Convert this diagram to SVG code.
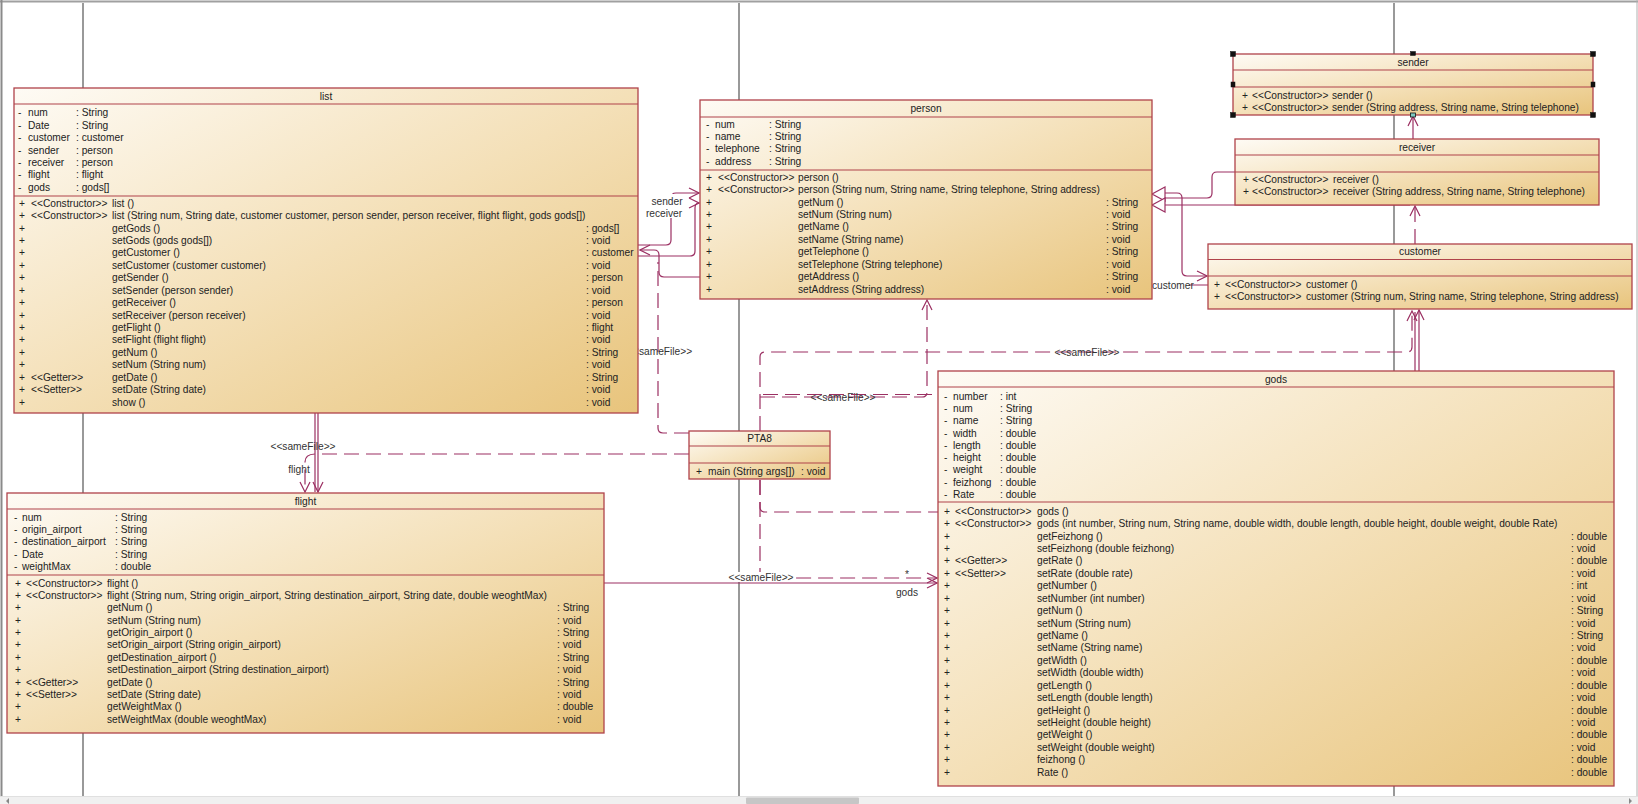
<svg xmlns="http://www.w3.org/2000/svg" width="1638" height="804" viewBox="0 0 1638 804">
<style>
text{font-family:"Liberation Sans",Arial,sans-serif;font-size:10.2px;fill:#222}
.tt{text-anchor:middle}
.lb{fill:#333}
.box{fill:url(#g);stroke:#b0434a;stroke-width:1.3}
.dv{stroke:#b0434a;stroke-width:1.2}
.c{fill:none;stroke:#9b2f62;stroke-width:1.2}
.d{fill:none;stroke:#9b2f62;stroke-width:1.2;stroke-dasharray:15 7}
.a{marker-end:url(#arr)}
.gen{fill:#fff;stroke:#9b2f62;stroke-width:1.2}
.gl{stroke:#555;stroke-width:1.2}
.h{fill:#111;stroke:#111;stroke-width:0.5}
.wb{fill:#fff}
</style>
<defs>
<linearGradient id="g" x1="0" y1="0" x2="1" y2="1">
<stop offset="0" stop-color="#fefbf5"/>
<stop offset="0.5" stop-color="#f4e0b8"/>
<stop offset="1" stop-color="#e8c47c"/>
</linearGradient>
<marker id="arr" viewBox="0 0 12 12" refX="11" refY="6" markerWidth="12" markerHeight="12" markerUnits="userSpaceOnUse" orient="auto">
<path d="M1,1 L11,6 L1,11" fill="none" stroke="#9b2f62" stroke-width="1.2"/>
</marker>
</defs>
<rect x="0" y="0" width="1638" height="804" fill="#fff"/>
<g id="frame">
<line x1="0" y1="1.5" x2="1638" y2="1.5" stroke="#a0a0a0" stroke-width="2"/>
<line x1="1.5" y1="0" x2="1.5" y2="804" stroke="#8a8a8a" stroke-width="2"/>
<line x1="1637" y1="0" x2="1637" y2="796" stroke="#b0b0b0" stroke-width="1"/>
<rect x="0" y="796" width="1638" height="8" fill="#f0f0f0"/>
<line x1="0" y1="796.5" x2="1638" y2="796.5" stroke="#e0e0e0"/>
<rect x="746" y="797.5" width="113" height="6.5" rx="1" fill="#c6c6c6"/>
<path d="M9,798 L6,801 L9,804 Z M1629,798 L1632,801 L1629,804 Z" fill="#888"/>
<line class="gl" x1="83" y1="3" x2="83" y2="796"/>
<line class="gl" x1="739" y1="3" x2="739" y2="796"/>
<line class="gl" x1="1394" y1="3" x2="1394" y2="796"/>
</g>
<g id="connectors">
<path class="c a" d="M638,245 H666 Q671,245 671,240 V198 Q671,193 676,193 H699"/>
<path class="c a" d="M638,256 H690 Q695,256 695,251 V208 Q695,203 699,203"/>
<rect class="wb" x="648" y="194" width="38" height="24"/>
<text class="lb tt" x="667" y="204.5">sender</text>
<text class="lb tt" x="664" y="216.5">receiver</text>
<path class="c a" d="M700,277 H664 Q659,277 659,272 V255 Q659,250 654,250 H640"/>
<path class="c" d="M1152,285 H1208"/>
<rect class="wb" x="1152" y="279" width="37" height="12"/>
<text class="lb" x="1152" y="288.5">customer</text>
<path class="c a" d="M1165,193 H1177 Q1182,193 1182,198 V271 Q1182,276 1187,276 H1207"/>
<path class="c" d="M1235,172 H1217 Q1212,172 1212,177 V193 Q1212,198 1207,198 H1165"/>
<path class="c" d="M1165,205 H1410"/>
<polygon class="gen" points="1152,194 1165,187 1165,201"/>
<polygon class="gen" points="1152,205 1165,198 1165,212"/>
<path class="c a" d="M1413,139 V116"/>
<path class="d a" d="M1415,244 V206"/>
<path class="c" d="M1415,371 V312"/>
<path class="c a" d="M1419,371 V310"/>
<path class="d a" d="M760,431 V357 Q760,352 765,352 H1407 Q1412,352 1412,347 V311"/>
<text class="lb tt" x="1087" y="355.5">&lt;&lt;sameFile&gt;&gt;</text>
<path class="d a" d="M760,397 H922 Q927,397 927,392 V300"/>
<path class="d" d="M763,394.5 H938"/>
<text class="lb tt" x="843" y="400.5">&lt;&lt;sameFile&gt;&gt;</text>
<path class="d" d="M760,480 V507 Q760,512 765,512 H938"/>
<path class="d a" d="M760,480 V573 Q760,578 765,578 H937"/>
<path class="c a" d="M604,583 H937"/>
<rect class="wb" x="729" y="572" width="64" height="10"/>
<text class="lb tt" x="761" y="581">&lt;&lt;sameFile&gt;&gt;</text>
<text class="lb" x="905" y="578">*</text>
<text class="lb tt" x="907" y="596">gods</text>
<path class="d a" d="M689,454 H316 Q305,454 305,462 V492"/>
<path class="c" d="M315,413 V492"/>
<path class="c a" d="M318,413 V492"/>
<text class="lb tt" x="303" y="449.5">&lt;&lt;sameFile&gt;&gt;</text>
<text class="lb tt" x="299" y="472.5">flight</text>
<path class="d" d="M689,433 H663 Q658,433 658,428 V262"/>
<text class="lb" x="627" y="354.5">&lt;&lt;sameFile&gt;&gt;</text>
</g>
<g id="list">
<rect class="box" x="14" y="88" width="624" height="325"/>
<line class="dv" x1="14" y1="104" x2="638" y2="104"/>
<line class="dv" x1="14" y1="196" x2="638" y2="196"/>
<text class="tt" x="326" y="99.6">list</text>
<text x="18" y="116.3">-</text><text x="28" y="116.3">num</text><text x="76" y="116.3">: String</text>
<text x="18" y="128.7">-</text><text x="28" y="128.7">Date</text><text x="76" y="128.7">: String</text>
<text x="18" y="141.1">-</text><text x="28" y="141.1">customer</text><text x="76" y="141.1">: customer</text>
<text x="18" y="153.5">-</text><text x="28" y="153.5">sender</text><text x="76" y="153.5">: person</text>
<text x="18" y="165.9">-</text><text x="28" y="165.9">receiver</text><text x="76" y="165.9">: person</text>
<text x="18" y="178.3">-</text><text x="28" y="178.3">flight</text><text x="76" y="178.3">: flight</text>
<text x="18" y="190.7">-</text><text x="28" y="190.7">gods</text><text x="76" y="190.7">: gods[]</text>
<text x="19" y="206.6">+</text><text x="31" y="206.6">&lt;&lt;Constructor&gt;&gt;</text><text x="112" y="206.6">list ()</text>
<text x="19" y="219">+</text><text x="31" y="219">&lt;&lt;Constructor&gt;&gt;</text><text x="112" y="219">list (String num, String date, customer customer, person sender, person receiver, flight flight, gods gods[])</text>
<text x="19" y="231.5">+</text><text x="112" y="231.5">getGods ()</text><text x="586" y="231.5">: gods[]</text>
<text x="19" y="243.9">+</text><text x="112" y="243.9">setGods (gods gods[])</text><text x="586" y="243.9">: void</text>
<text x="19" y="256.4">+</text><text x="112" y="256.4">getCustomer ()</text><text x="586" y="256.4">: customer</text>
<text x="19" y="268.8">+</text><text x="112" y="268.8">setCustomer (customer customer)</text><text x="586" y="268.8">: void</text>
<text x="19" y="281.2">+</text><text x="112" y="281.2">getSender ()</text><text x="586" y="281.2">: person</text>
<text x="19" y="293.7">+</text><text x="112" y="293.7">setSender (person sender)</text><text x="586" y="293.7">: void</text>
<text x="19" y="306.1">+</text><text x="112" y="306.1">getReceiver ()</text><text x="586" y="306.1">: person</text>
<text x="19" y="318.6">+</text><text x="112" y="318.6">setReceiver (person receiver)</text><text x="586" y="318.6">: void</text>
<text x="19" y="331">+</text><text x="112" y="331">getFlight ()</text><text x="586" y="331">: flight</text>
<text x="19" y="343.4">+</text><text x="112" y="343.4">setFlight (flight flight)</text><text x="586" y="343.4">: void</text>
<text x="19" y="355.9">+</text><text x="112" y="355.9">getNum ()</text><text x="586" y="355.9">: String</text>
<text x="19" y="368.3">+</text><text x="112" y="368.3">setNum (String num)</text><text x="586" y="368.3">: void</text>
<text x="19" y="380.8">+</text><text x="31" y="380.8">&lt;&lt;Getter&gt;&gt;</text><text x="112" y="380.8">getDate ()</text><text x="586" y="380.8">: String</text>
<text x="19" y="393.2">+</text><text x="31" y="393.2">&lt;&lt;Setter&gt;&gt;</text><text x="112" y="393.2">setDate (String date)</text><text x="586" y="393.2">: void</text>
<text x="19" y="405.6">+</text><text x="112" y="405.6">show ()</text><text x="586" y="405.6">: void</text>
</g>
<g id="person">
<rect class="box" x="700" y="100" width="452" height="199"/>
<line class="dv" x1="700" y1="117" x2="1152" y2="117"/>
<line class="dv" x1="700" y1="170" x2="1152" y2="170"/>
<text class="tt" x="926" y="112.1">person</text>
<text x="706" y="127.6">-</text><text x="715" y="127.6">num</text><text x="769" y="127.6">: String</text>
<text x="706" y="140">-</text><text x="715" y="140">name</text><text x="769" y="140">: String</text>
<text x="706" y="152.4">-</text><text x="715" y="152.4">telephone</text><text x="769" y="152.4">: String</text>
<text x="706" y="164.8">-</text><text x="715" y="164.8">address</text><text x="769" y="164.8">: String</text>
<text x="706" y="180.6">+</text><text x="718" y="180.6">&lt;&lt;Constructor&gt;&gt;</text><text x="798" y="180.6">person ()</text>
<text x="706" y="193">+</text><text x="718" y="193">&lt;&lt;Constructor&gt;&gt;</text><text x="798" y="193">person (String num, String name, String telephone, String address)</text>
<text x="706" y="205.5">+</text><text x="798" y="205.5">getNum ()</text><text x="1106" y="205.5">: String</text>
<text x="706" y="217.9">+</text><text x="798" y="217.9">setNum (String num)</text><text x="1106" y="217.9">: void</text>
<text x="706" y="230.4">+</text><text x="798" y="230.4">getName ()</text><text x="1106" y="230.4">: String</text>
<text x="706" y="242.8">+</text><text x="798" y="242.8">setName (String name)</text><text x="1106" y="242.8">: void</text>
<text x="706" y="255.2">+</text><text x="798" y="255.2">getTelephone ()</text><text x="1106" y="255.2">: String</text>
<text x="706" y="267.7">+</text><text x="798" y="267.7">setTelephone (String telephone)</text><text x="1106" y="267.7">: void</text>
<text x="706" y="280.1">+</text><text x="798" y="280.1">getAddress ()</text><text x="1106" y="280.1">: String</text>
<text x="706" y="292.6">+</text><text x="798" y="292.6">setAddress (String address)</text><text x="1106" y="292.6">: void</text>
</g>
<g id="sender">
<rect class="box" x="1233" y="54" width="360" height="61"/>
<line class="dv" x1="1233" y1="70" x2="1593" y2="70"/>
<line class="dv" x1="1233" y1="87" x2="1593" y2="87"/>
<text class="tt" x="1413" y="65.6">sender</text>
<text x="1242" y="98.6">+</text><text x="1252" y="98.6">&lt;&lt;Constructor&gt;&gt;</text><text x="1332" y="98.6">sender ()</text>
<text x="1242" y="111">+</text><text x="1252" y="111">&lt;&lt;Constructor&gt;&gt;</text><text x="1332" y="111">sender (String address, String name, String telephone)</text>
<rect class="h" x="1230.5" y="51.5" width="5" height="5"/>
<rect class="h" x="1410.5" y="51.5" width="5" height="4"/>
<rect class="h" x="1590.5" y="51.5" width="5" height="5"/>
<rect class="h" x="1231" y="82" width="4" height="5"/>
<rect class="h" x="1591" y="82" width="4" height="5"/>
<rect class="h" x="1230.5" y="112.5" width="5" height="5"/>
<rect x="1410.5" y="113" width="5" height="4" fill="#7fc9c0" stroke="#111" stroke-width="0.8"/>
<rect class="h" x="1590.5" y="112.5" width="5" height="5"/>
</g>
<g id="receiver">
<rect class="box" x="1235" y="139" width="364" height="66"/>
<line class="dv" x1="1235" y1="155" x2="1599" y2="155"/>
<line class="dv" x1="1235" y1="172" x2="1599" y2="172"/>
<text class="tt" x="1417" y="150.6">receiver</text>
<text x="1243" y="182.6">+</text><text x="1252" y="182.6">&lt;&lt;Constructor&gt;&gt;</text><text x="1333" y="182.6">receiver ()</text>
<text x="1243" y="195">+</text><text x="1252" y="195">&lt;&lt;Constructor&gt;&gt;</text><text x="1333" y="195">receiver (String address, String name, String telephone)</text>
</g>
<g id="customer">
<rect class="box" x="1208" y="244" width="424" height="65"/>
<line class="dv" x1="1208" y1="259.5" x2="1632" y2="259.5"/>
<line class="dv" x1="1208" y1="276" x2="1632" y2="276"/>
<text class="tt" x="1420" y="255.1">customer</text>
<text x="1214" y="287.6">+</text><text x="1225" y="287.6">&lt;&lt;Constructor&gt;&gt;</text><text x="1306" y="287.6">customer ()</text>
<text x="1214" y="300">+</text><text x="1225" y="300">&lt;&lt;Constructor&gt;&gt;</text><text x="1306" y="300">customer (String num, String name, String telephone, String address)</text>
</g>
<g id="PTA8">
<rect class="box" x="689" y="431" width="141" height="48"/>
<line class="dv" x1="689" y1="446" x2="830" y2="446"/>
<line class="dv" x1="689" y1="463" x2="830" y2="463"/>
<text class="tt" x="759.5" y="442.1">PTA8</text>
<text x="696" y="474.6">+</text><text x="708" y="474.6">main (String args[])</text><text x="801" y="474.6">: void</text>
</g>
<g id="flight">
<rect class="box" x="7" y="493" width="597" height="240"/>
<line class="dv" x1="7" y1="509" x2="604" y2="509"/>
<line class="dv" x1="7" y1="575" x2="604" y2="575"/>
<text class="tt" x="305.5" y="504.6">flight</text>
<text x="14" y="520.6">-</text><text x="22" y="520.6">num</text><text x="115" y="520.6">: String</text>
<text x="14" y="533">-</text><text x="22" y="533">origin_airport</text><text x="115" y="533">: String</text>
<text x="14" y="545.4">-</text><text x="22" y="545.4">destination_airport</text><text x="115" y="545.4">: String</text>
<text x="14" y="557.8">-</text><text x="22" y="557.8">Date</text><text x="115" y="557.8">: String</text>
<text x="14" y="570.2">-</text><text x="22" y="570.2">weightMax</text><text x="115" y="570.2">: double</text>
<text x="15" y="586.6">+</text><text x="26" y="586.6">&lt;&lt;Constructor&gt;&gt;</text><text x="107" y="586.6">flight ()</text>
<text x="15" y="599">+</text><text x="26" y="599">&lt;&lt;Constructor&gt;&gt;</text><text x="107" y="599">flight (String num, String origin_airport, String destination_airport, String date, double weoghtMax)</text>
<text x="15" y="611.3">+</text><text x="107" y="611.3">getNum ()</text><text x="557" y="611.3">: String</text>
<text x="15" y="623.7">+</text><text x="107" y="623.7">setNum (String num)</text><text x="557" y="623.7">: void</text>
<text x="15" y="636">+</text><text x="107" y="636">getOrigin_airport ()</text><text x="557" y="636">: String</text>
<text x="15" y="648.4">+</text><text x="107" y="648.4">setOrigin_airport (String origin_airport)</text><text x="557" y="648.4">: void</text>
<text x="15" y="660.8">+</text><text x="107" y="660.8">getDestination_airport ()</text><text x="557" y="660.8">: String</text>
<text x="15" y="673.1">+</text><text x="107" y="673.1">setDestination_airport (String destination_airport)</text><text x="557" y="673.1">: void</text>
<text x="15" y="685.5">+</text><text x="26" y="685.5">&lt;&lt;Getter&gt;&gt;</text><text x="107" y="685.5">getDate ()</text><text x="557" y="685.5">: String</text>
<text x="15" y="697.8">+</text><text x="26" y="697.8">&lt;&lt;Setter&gt;&gt;</text><text x="107" y="697.8">setDate (String date)</text><text x="557" y="697.8">: void</text>
<text x="15" y="710.2">+</text><text x="107" y="710.2">getWeightMax ()</text><text x="557" y="710.2">: double</text>
<text x="15" y="722.6">+</text><text x="107" y="722.6">setWeightMax (double weoghtMax)</text><text x="557" y="722.6">: void</text>
</g>
<g id="gods">
<rect class="box" x="938" y="371" width="676" height="415"/>
<line class="dv" x1="938" y1="387" x2="1614" y2="387"/>
<line class="dv" x1="938" y1="502" x2="1614" y2="502"/>
<text class="tt" x="1276" y="382.6">gods</text>
<text x="944" y="399.6">-</text><text x="953" y="399.6">number</text><text x="1000" y="399.6">: int</text>
<text x="944" y="411.9">-</text><text x="953" y="411.9">num</text><text x="1000" y="411.9">: String</text>
<text x="944" y="424.2">-</text><text x="953" y="424.2">name</text><text x="1000" y="424.2">: String</text>
<text x="944" y="436.5">-</text><text x="953" y="436.5">width</text><text x="1000" y="436.5">: double</text>
<text x="944" y="448.8">-</text><text x="953" y="448.8">length</text><text x="1000" y="448.8">: double</text>
<text x="944" y="461.1">-</text><text x="953" y="461.1">height</text><text x="1000" y="461.1">: double</text>
<text x="944" y="473.4">-</text><text x="953" y="473.4">weight</text><text x="1000" y="473.4">: double</text>
<text x="944" y="485.7">-</text><text x="953" y="485.7">feizhong</text><text x="1000" y="485.7">: double</text>
<text x="944" y="498">-</text><text x="953" y="498">Rate</text><text x="1000" y="498">: double</text>
<text x="944" y="514.6">+</text><text x="955" y="514.6">&lt;&lt;Constructor&gt;&gt;</text><text x="1037" y="514.6">gods ()</text>
<text x="944" y="527">+</text><text x="955" y="527">&lt;&lt;Constructor&gt;&gt;</text><text x="1037" y="527">gods (int number, String num, String name, double width, double length, double height, double weight, double Rate)</text>
<text x="944" y="539.5">+</text><text x="1037" y="539.5">getFeizhong ()</text><text x="1571" y="539.5">: double</text>
<text x="944" y="551.9">+</text><text x="1037" y="551.9">setFeizhong (double feizhong)</text><text x="1571" y="551.9">: void</text>
<text x="944" y="564.3">+</text><text x="955" y="564.3">&lt;&lt;Getter&gt;&gt;</text><text x="1037" y="564.3">getRate ()</text><text x="1571" y="564.3">: double</text>
<text x="944" y="576.8">+</text><text x="955" y="576.8">&lt;&lt;Setter&gt;&gt;</text><text x="1037" y="576.8">setRate (double rate)</text><text x="1571" y="576.8">: void</text>
<text x="944" y="589.2">+</text><text x="1037" y="589.2">getNumber ()</text><text x="1571" y="589.2">: int</text>
<text x="944" y="601.6">+</text><text x="1037" y="601.6">setNumber (int number)</text><text x="1571" y="601.6">: void</text>
<text x="944" y="614">+</text><text x="1037" y="614">getNum ()</text><text x="1571" y="614">: String</text>
<text x="944" y="626.5">+</text><text x="1037" y="626.5">setNum (String num)</text><text x="1571" y="626.5">: void</text>
<text x="944" y="638.9">+</text><text x="1037" y="638.9">getName ()</text><text x="1571" y="638.9">: String</text>
<text x="944" y="651.3">+</text><text x="1037" y="651.3">setName (String name)</text><text x="1571" y="651.3">: void</text>
<text x="944" y="663.8">+</text><text x="1037" y="663.8">getWidth ()</text><text x="1571" y="663.8">: double</text>
<text x="944" y="676.2">+</text><text x="1037" y="676.2">setWidth (double width)</text><text x="1571" y="676.2">: void</text>
<text x="944" y="688.6">+</text><text x="1037" y="688.6">getLength ()</text><text x="1571" y="688.6">: double</text>
<text x="944" y="701.1">+</text><text x="1037" y="701.1">setLength (double length)</text><text x="1571" y="701.1">: void</text>
<text x="944" y="713.5">+</text><text x="1037" y="713.5">getHeight ()</text><text x="1571" y="713.5">: double</text>
<text x="944" y="725.9">+</text><text x="1037" y="725.9">setHeight (double height)</text><text x="1571" y="725.9">: void</text>
<text x="944" y="738.3">+</text><text x="1037" y="738.3">getWeight ()</text><text x="1571" y="738.3">: double</text>
<text x="944" y="750.8">+</text><text x="1037" y="750.8">setWeight (double weight)</text><text x="1571" y="750.8">: void</text>
<text x="944" y="763.2">+</text><text x="1037" y="763.2">feizhong ()</text><text x="1571" y="763.2">: double</text>
<text x="944" y="775.6">+</text><text x="1037" y="775.6">Rate ()</text><text x="1571" y="775.6">: double</text>
</g>
</svg>
